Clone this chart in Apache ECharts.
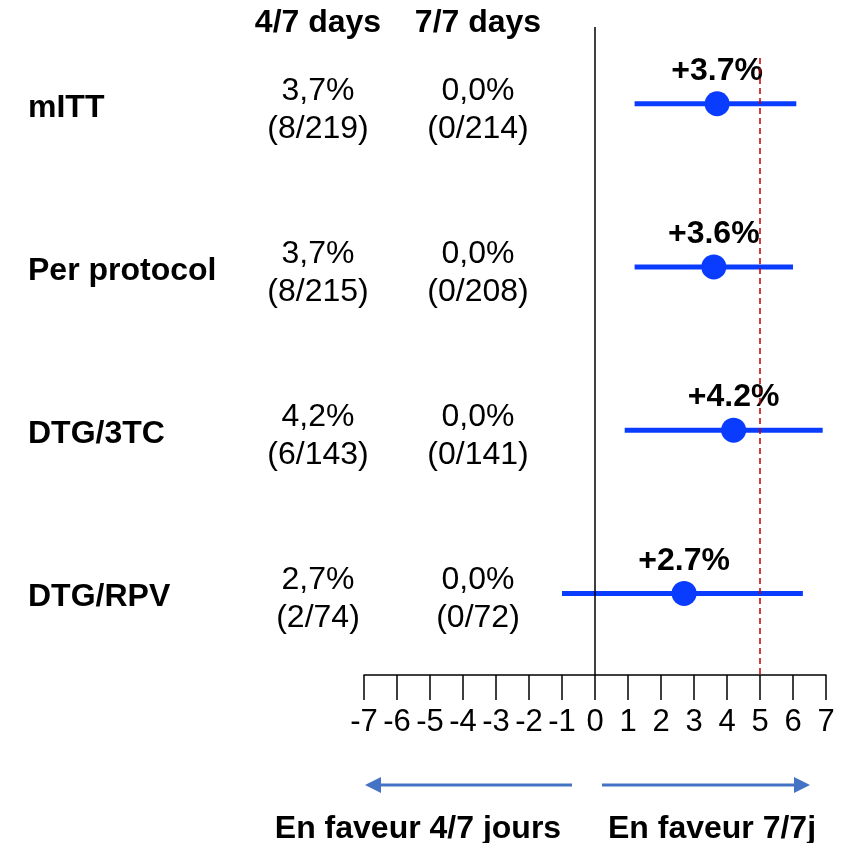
<!DOCTYPE html>
<html>
<head>
<meta charset="utf-8">
<script src="https://cdn.jsdelivr.net/npm/echarts@6/dist/echarts.min.js"></script>
<style>
  html, body { margin: 0; padding: 0; background: #fff; }
  #chart { width: 851px; height: 843px; }
</style>
</head>
<body>
<div id="chart"></div>
<script>
// Subgroups (one row each, top to bottom)
const groups = ['mITT', 'Per protocol', 'DTG/3TC', 'DTG/RPV'];
// Failure rate per arm, with counts
const rate47 = ['3,7%', '3,7%', '4,2%', '2,7%'];
const count47 = ['(8/219)', '(8/215)', '(6/143)', '(2/74)'];
const rate77 = ['0,0%', '0,0%', '0,0%', '0,0%'];
const count77 = ['(0/214)', '(0/208)', '(0/141)', '(0/72)'];
// Difference (percentage points) with 95% CI
const diff = [3.7, 3.6, 4.2, 2.7];
const ciLow = [1.2, 1.2, 0.9, -1.0];
const ciHigh = [6.1, 6.0, 6.9, 6.3];
// Non-inferiority margin
const margin = 5;
// Axis tick labels
const xTicks = [-7, -6, -5, -4, -3, -2, -1, 0, 1, 2, 3, 4, 5, 6, 7];

const FONT = '"Liberation Sans", Arial, sans-serif';
const BLUE = '#0a3cff';
const rows = groups.map((g, i) => i + 1);

const chart = echarts.init(document.getElementById('chart'), null, { renderer: 'canvas' });

const option = {
  animation: false,
  backgroundColor: '#fff',
  textStyle: { fontFamily: FONT },
  grid: { left: 364, right: 25, top: 27, bottom: 168, containLabel: false },
  xAxis: {
    type: 'value', min: xTicks[0], max: xTicks[xTicks.length - 1], interval: 1,
    axisLine: { show: true, lineStyle: { color: '#000', width: 1.5 } },
    axisTick: { show: true, inside: false, length: 25, lineStyle: { color: '#000', width: 1.5 } },
    axisLabel: { color: '#000', fontSize: 31, fontFamily: FONT, margin: 32,
      formatter: v => String(v) },
    splitLine: { show: false }
  },
  yAxis: {
    type: 'value', min: 0.53, max: 4.5, inverse: true, show: false
  },
  series: [
    {
      // confidence intervals
      type: 'custom',
      data: rows.map((r, i) => [ciLow[i], ciHigh[i], r]),
      renderItem: (params, api) => {
        const a = api.coord([api.value(0), api.value(2)]);
        const b = api.coord([api.value(1), api.value(2)]);
        return {
          type: 'line',
          shape: { x1: a[0], y1: a[1], x2: b[0], y2: b[1] },
          style: { stroke: BLUE, lineWidth: 5 }
        };
      },
      z: 3,
      markLine: {
        silent: true, symbol: 'none', label: { show: false },
        data: [
          [{ coord: [0, 0.53], lineStyle: { color: '#000', width: 1.5, type: 'solid' } },
           { coord: [0, 4.5] }],
          [{ coord: [margin, 0.72], lineStyle: { color: '#c00000', width: 1.5, type: [6, 4] } },
           { coord: [margin, 4.5] }]
        ]
      }
    },
    {
      // point estimates
      type: 'scatter',
      data: rows.map((r, i) => [diff[i], r]),
      symbol: 'circle', symbolSize: 25,
      itemStyle: { color: BLUE, opacity: 1 },
      z: 4,
      label: {
        show: true, position: 'top', distance: 4,
        formatter: p => '+' + p.value[0].toFixed(1) + '%',
        color: '#000', fontSize: 32, fontWeight: 'bold', fontFamily: FONT
      }
    }
  ]
};
chart.setOption(option);

// Side table and bottom annotations
function buildGraphics() {
  const g = [];
  const col47 = 318, col77 = 478;
  const boldText = (x, y, text, align, size) => ({
    type: 'text', x, y,
    style: { text, fill: '#000', font: `bold ${size}px ${FONT}`, align, verticalAlign: 'middle' }
  });
  g.push(boldText(col47, 23, '4/7 days', 'center', 32));
  g.push(boldText(col77, 23, '7/7 days', 'center', 32));
  rows.forEach((r, i) => {
    const y = chart.convertToPixel({ yAxisIndex: 0 }, r);
    g.push(boldText(28, y + 4, groups[i], 'left', 32));
    [[col47, rate47[i], count47[i]], [col77, rate77[i], count77[i]]].forEach(([x, a, b]) => {
      g.push({ type: 'text', x, y: y - 13,
        style: { text: a, fill: '#000', font: `32px ${FONT}`, align: 'center', verticalAlign: 'middle' } });
      g.push({ type: 'text', x, y: y + 25,
        style: { text: b, fill: '#000', font: `32px ${FONT}`, align: 'center', verticalAlign: 'middle' } });
    });
  });
  // direction arrows
  const ay = 785, ac = '#4472c4';
  g.push({ type: 'line', shape: { x1: 572, y1: ay, x2: 378, y2: ay }, style: { stroke: ac, lineWidth: 3 } });
  g.push({ type: 'polygon', shape: { points: [[365, ay], [381, ay - 8], [381, ay + 8]] }, style: { fill: ac } });
  g.push({ type: 'line', shape: { x1: 602, y1: ay, x2: 797, y2: ay }, style: { stroke: ac, lineWidth: 3 } });
  g.push({ type: 'polygon', shape: { points: [[810, ay], [794, ay - 8], [794, ay + 8]] }, style: { fill: ac } });
  g.push(boldText(418, 829, 'En faveur 4/7 jours', 'center', 32));
  g.push(boldText(712, 829, 'En faveur 7/7j', 'center', 32));
  chart.setOption({ graphic: g });
}
buildGraphics();
</script>
</body>
</html>
